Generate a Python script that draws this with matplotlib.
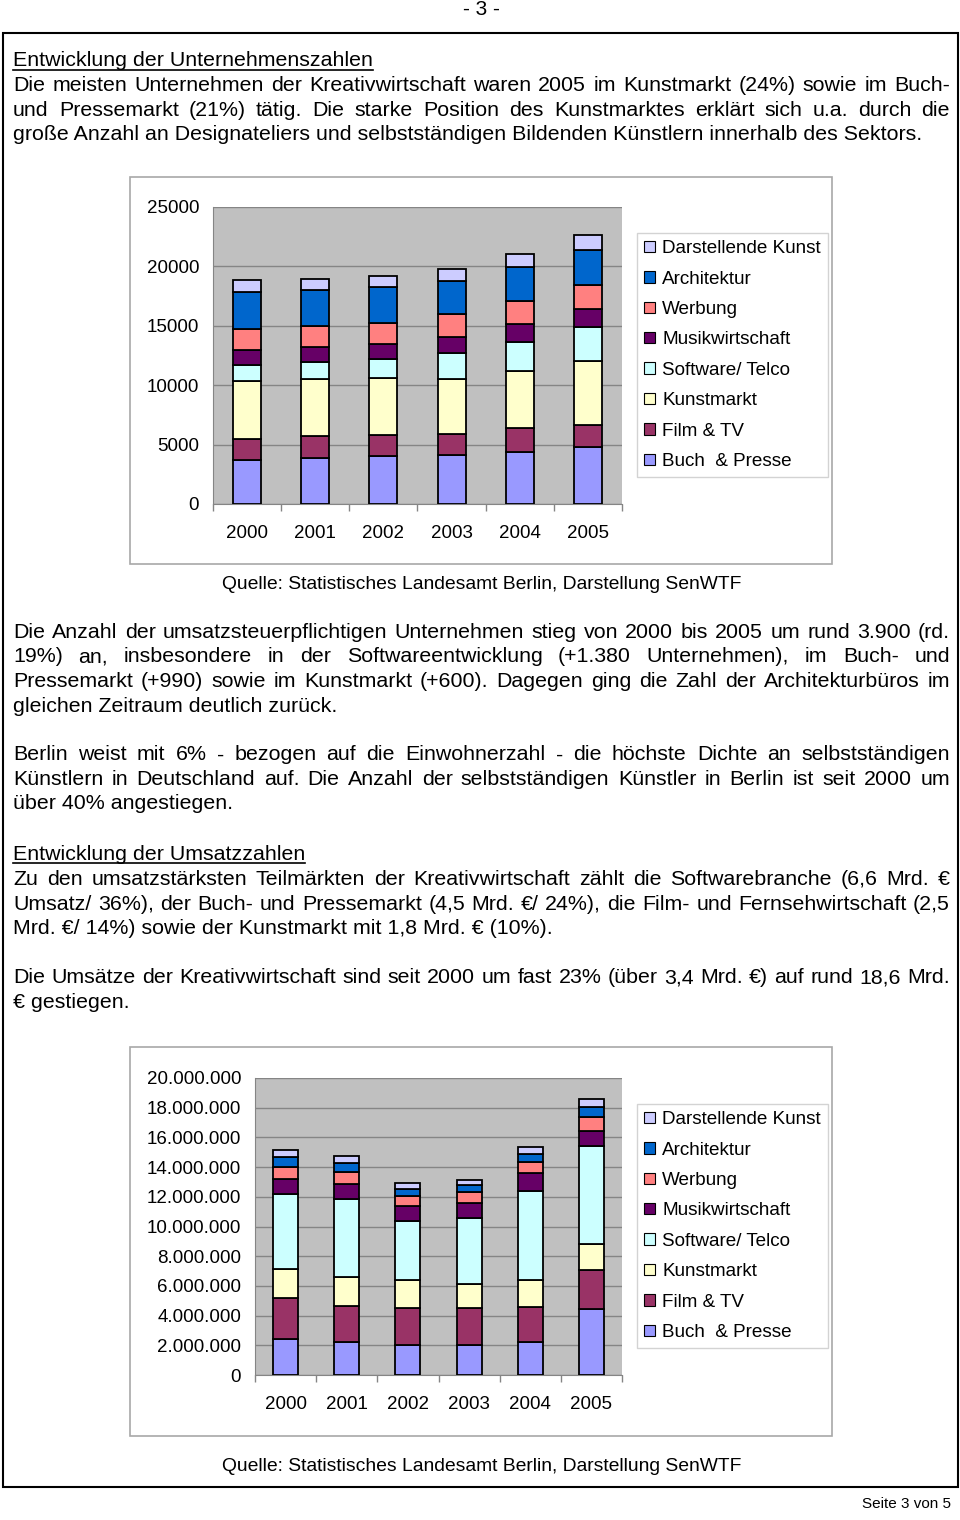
import numpy as np
import matplotlib
matplotlib.use('Agg')
import matplotlib.pyplot as plt
from matplotlib.patches import Rectangle, Patch
from matplotlib.lines import Line2D
from matplotlib.ticker import FuncFormatter, FixedLocator

plt.rcParams['font.family'] = ['Liberation Sans', 'DejaVu Sans']

# Daten
jahre = ['2000', '2001', '2002', '2003', '2004', '2005']
teilmaerkte = ['Buch  & Presse', 'Film & TV', 'Kunstmarkt', 'Software/ Telco',
               'Musikwirtschaft', 'Werbung', 'Architektur', 'Darstellende Kunst']
farben = ['#9999FF', '#993366', '#FFFFCC', '#CCFFFF',
          '#660066', '#FF8080', '#0066CC', '#CCCCFF']

# Unternehmen je Teilmarkt (von unten nach oben)
unternehmen = {
    'Buch  & Presse':     [3720, 3860, 4000, 4120, 4340, 4760],
    'Film & TV':          [1770, 1880, 1850, 1740, 2020, 1930],
    'Kunstmarkt':         [4870, 4760, 4790, 4650, 4870, 5380],
    'Software/ Telco':    [1340, 1430, 1540, 2210, 2410, 2800],
    'Musikwirtschaft':    [1260, 1260, 1290, 1370, 1510, 1510],
    'Werbung':            [1790, 1820, 1790, 1900, 1960, 2040],
    'Architektur':        [3080, 3000, 2970, 2770, 2860, 3000],
    'Darstellende Kunst': [1040, 950, 980, 1060, 1090, 1230],
}

# Umsatz je Teilmarkt
umsatz = {
    'Buch  & Presse':     [2400000, 2200000, 2020000, 2020000, 2200000, 4460000],
    'Film & TV':          [2760000, 2460000, 2460000, 2460000, 2370000, 2580000],
    'Kunstmarkt':         [1970000, 1950000, 1890000, 1660000, 1800000, 1770000],
    'Software/ Telco':    [5040000, 5210000, 3970000, 4400000, 6010000, 6620000],
    'Musikwirtschaft':    [1040000, 1010000, 1030000, 1070000, 1230000, 1030000],
    'Werbung':            [780000, 820000, 670000, 700000, 760000, 940000],
    'Architektur':        [700000, 630000, 490000, 490000, 520000, 630000],
    'Darstellende Kunst': [490000, 500000, 380000, 320000, 490000, 580000],
}

W, H = 960, 1520
fig = plt.figure(figsize=(W / 100, H / 100), dpi=100)
renderer = fig.canvas.get_renderer()

def fx(x):
    return x / W

def fy(y):
    return 1 - y / H

BODY = 15.4
LEFT, RIGHT = 13, 950

def zeile(y, text, justify=False, underline=False):
    if not justify:
        t = fig.text(fx(LEFT), fy(y), text, fontsize=BODY, va='baseline', ha='left')
        if underline:
            bb = t.get_window_extent(renderer)
            fig.add_artist(Line2D([fx(bb.x0), fx(bb.x1)], [fy(y + 3), fy(y + 3)],
                                  color='black', lw=1.2))
        return
    woerter = text.split(' ')
    objs = [fig.text(0, fy(y), w, fontsize=BODY, va='baseline', ha='left') for w in woerter]
    breiten = [o.get_window_extent(renderer).width for o in objs]
    luecke = (RIGHT - LEFT - sum(breiten)) / (len(woerter) - 1)
    x = LEFT
    for o, b in zip(objs, breiten):
        o.set_x(fx(x))
        x += b + luecke

# Seitenkopf, Rahmen, Fuss
fig.text(fx(481), fy(15), '- 3 -', fontsize=15, ha='center', va='baseline')
fig.add_artist(Rectangle((fx(3), fy(1487)), fx(955), (1487 - 33) / H,
                         fill=False, edgecolor='black', lw=1.5))
fig.text(fx(951), fy(1508), 'Seite 3 von 5', fontsize=11, ha='right', va='baseline')

# Text
zeile(66.5, 'Entwicklung der Unternehmenszahlen', underline=True)
zeile(91, 'Die meisten Unternehmen der Kreativwirtschaft waren 2005 im Kunstmarkt (24%) sowie im Buch-', True)
zeile(115.5, 'und Pressemarkt (21%) tätig. Die starke Position des Kunstmarktes erklärt sich u.a. durch die', True)
zeile(140, 'große Anzahl an Designateliers und selbstständigen Bildenden Künstlern innerhalb des Sektors.')

zeile(638, 'Die Anzahl der umsatzsteuerpflichtigen Unternehmen stieg von 2000 bis 2005 um rund 3.900 (rd.', True)
zeile(662.5, '19%) an, insbesondere in der Softwareentwicklung (+1.380 Unternehmen), im Buch- und', True)
zeile(687, 'Pressemarkt (+990) sowie im Kunstmarkt (+600). Dagegen ging die Zahl der Architekturbüros im', True)
zeile(711.5, 'gleichen Zeitraum deutlich zurück.')
zeile(760.5, 'Berlin weist mit 6% - bezogen auf die Einwohnerzahl - die höchste Dichte an selbstständigen', True)
zeile(785, 'Künstlern in Deutschland auf. Die Anzahl der selbstständigen Künstler in Berlin ist seit 2000 um', True)
zeile(809.5, 'über 40% angestiegen.')

zeile(859.5, 'Entwicklung der Umsatzzahlen', underline=True)
zeile(885, 'Zu den umsatzstärksten Teilmärkten der Kreativwirtschaft zählt die Softwarebranche (6,6 Mrd. €', True)
zeile(909.5, 'Umsatz/ 36%), der Buch- und Pressemarkt (4,5 Mrd. €/ 24%), die Film- und Fernsehwirtschaft (2,5', True)
zeile(934, 'Mrd. €/ 14%) sowie der Kunstmarkt mit 1,8 Mrd. € (10%).')
zeile(983, 'Die Umsätze der Kreativwirtschaft sind seit 2000 um fast 23% (über 3,4 Mrd. €) auf rund 18,6 Mrd.', True)
zeile(1007.5, '€ gestiegen.')


def diagramm(daten, box, plot, legende, quelle_y, ymax, ystep, fmt):
    bx0, by0, bx1, by1 = box
    fig.add_artist(Rectangle((fx(bx0), fy(by1)), (bx1 - bx0) / W, (by1 - by0) / H,
                             fill=False, edgecolor='#a8a8a8', lw=1.2))
    px0, py0, px1, py1 = plot
    ax = fig.add_axes([fx(px0), fy(py1), (px1 - px0) / W, (py1 - py0) / H])
    ax.set_facecolor('#C0C0C0')
    x = np.arange(len(jahre))
    unten = np.zeros(len(jahre))
    for name, farbe in zip(teilmaerkte, farben):
        werte = np.array(daten[name], dtype=float)
        ax.bar(x, werte, 0.41, bottom=unten, color=farbe, edgecolor='black',
               linewidth=1.3, zorder=3, label=name)
        unten += werte
    ax.set_xlim(-0.5, len(jahre) - 0.5)
    ax.set_ylim(0, ymax)
    ax.set_yticks(np.arange(0, ymax + 1, ystep))
    ax.yaxis.set_major_formatter(FuncFormatter(fmt))
    ax.grid(axis='y', color='#858585', lw=1, zorder=1)
    ax.set_xticks(x)
    ax.set_xticklabels(jahre)
    ax.xaxis.set_minor_locator(FixedLocator(np.arange(-0.5, len(jahre), 1)))
    ax.tick_params(axis='x', which='major', length=0, pad=15, labelsize=13.5)
    ax.tick_params(axis='x', which='minor', length=5, color='#858585', width=1)
    ax.tick_params(axis='y', length=0, pad=10, labelsize=13.5)
    for s in ['top', 'right']:
        ax.spines[s].set_visible(False)
    for s in ['left', 'bottom']:
        ax.spines[s].set_color('#858585')
    handles = [Patch(facecolor=c, edgecolor='black', lw=0.8, label=n)
               for n, c in zip(teilmaerkte, farben)][::-1]
    lx0, ly0, lx1, ly1 = legende
    leg = fig.legend(handles=handles, loc='upper left',
                     bbox_to_anchor=(fx(lx0), fy(ly0)), fontsize=13.6,
                     frameon=True, fancybox=False, borderaxespad=0,
                     handlelength=0.55, handleheight=0.55, handletextpad=0.4,
                     labelspacing=0.71, borderpad=0.38)
    leg.get_frame().set_edgecolor('#c8c8c8')
    leg.get_frame().set_linewidth(1)
    fig.text(fx(482), fy(quelle_y), 'Quelle: Statistisches Landesamt Berlin, Darstellung SenWTF',
             fontsize=13.9, ha='center', va='baseline')
    return ax


diagramm(unternehmen, (130, 177, 832, 564), (213, 207, 622, 504),
         (637, 233, 826, 478), 589, 25000, 5000, lambda v, p: f'{int(v)}')

diagramm(umsatz, (130, 1047, 832, 1436), (255, 1078, 622, 1375),
         (637, 1104, 826, 1348), 1471, 20000000, 2000000,
         lambda v, p: f'{int(v):,}'.replace(',', '.'))

fig.savefig('out.png', dpi=100)
